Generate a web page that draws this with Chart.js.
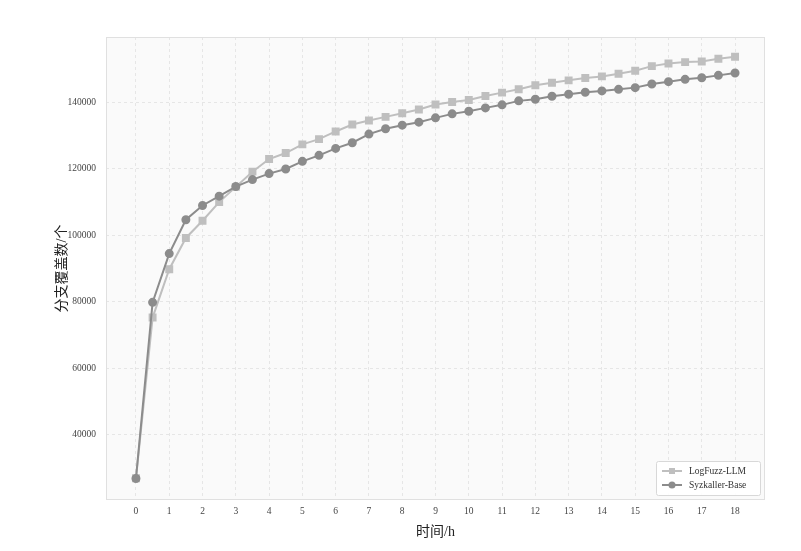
<!DOCTYPE html>
<html>
<head>
<meta charset="utf-8">
<script src="https://cdn.jsdelivr.net/npm/chart.js@4"></script>
<style>
  html, body { margin: 0; padding: 0; background: #fff; }
  #wrap { width: 801px; height: 551px; }
</style>
</head>
<body>
<div id="wrap"><canvas id="myChart"></canvas></div>
<script>
const hours = [0, 0.5, 1, 1.5, 2, 2.5, 3, 3.5, 4, 4.5, 5, 5.5, 6, 6.5, 7, 7.5, 8, 8.5, 9,
  9.5, 10, 10.5, 11, 11.5, 12, 12.5, 13, 13.5, 14, 14.5, 15, 15.5, 16, 16.5, 17, 17.5, 18];

const logFuzzLLM = [26900, 75240, 89790, 99190, 104370, 109970, 114550, 119130, 122930, 124730,
  127330, 128920, 131220, 133320, 134520, 135610, 136710, 137800, 139300,
  140100, 140700, 141900, 142900, 143890, 145090, 145890, 146590, 147280, 147780,
  148590, 149490, 150870, 151680, 152080, 152280, 153080, 153680];

const syzkallerBase = [26830, 79820, 94490, 104670, 108960, 111760, 114650, 116740, 118540, 119940,
  122240, 124040, 126130, 127820, 130420, 132020, 133110, 134010, 135310,
  136510, 137310, 138310, 139220, 140420, 140920, 141820, 142420, 143020, 143420,
  143890, 144400, 145490, 146190, 146890, 147390, 148090, 148790];

const xTicks = [0, 1, 2, 3, 4, 5, 6, 7, 8, 9, 10, 11, 12, 13, 14, 15, 16, 17, 18];
const yTicks = [40000, 60000, 80000, 100000, 120000, 140000];

const seriesNames = ['LogFuzz-LLM', 'Syzkaller-Base'];

const serif = "'Liberation Serif', 'Times New Roman', 'Noto Sans CJK SC', serif";

// plot background and frame like the original figure
const plotFrame = {
  id: 'plotFrame',
  beforeDraw(chart) {
    const { ctx, chartArea: a } = chart;
    ctx.save();
    ctx.fillStyle = '#fafafa';
    ctx.fillRect(a.left, a.top, a.right - a.left, a.bottom - a.top);
    ctx.restore();
  },
  afterDraw(chart) {
    const { ctx, chartArea: a } = chart;
    ctx.save();
    ctx.strokeStyle = '#e0e0e0';
    ctx.lineWidth = 1;
    ctx.strokeRect(a.left + 0.5, a.top + 0.5, a.right - a.left - 1, a.bottom - a.top - 1);
    ctx.restore();
  },
};

// legend box in lower right of the plot, line + marker glyphs
const cornerLegend = {
  id: 'cornerLegend',
  afterDraw(chart) {
    const { ctx, chartArea: a } = chart;
    const w = 104, h = 34;
    const x0 = a.right - w - 5, y0 = a.bottom - h - 5;
    ctx.save();
    ctx.fillStyle = 'rgba(255,255,255,0.9)';
    ctx.strokeStyle = '#d8d8d8';
    ctx.lineWidth = 1;
    ctx.beginPath();
    ctx.roundRect(x0 + 0.5, y0 + 0.5, w, h, 2);
    ctx.fill();
    ctx.stroke();
    ctx.font = '9.5px ' + serif;
    ctx.textBaseline = 'middle';
    chart.data.datasets.forEach((ds, i) => {
      const cy = y0 + 10 + i * 14;
      ctx.strokeStyle = ds.borderColor;
      ctx.lineWidth = 2;
      ctx.beginPath();
      ctx.moveTo(x0 + 6, cy);
      ctx.lineTo(x0 + 26, cy);
      ctx.stroke();
      ctx.fillStyle = ds.backgroundColor;
      if (ds.pointStyle === 'rect') {
        ctx.fillRect(x0 + 16 - 3, cy - 3, 6, 6);
      } else {
        ctx.beginPath();
        ctx.arc(x0 + 16, cy, 3.5, 0, Math.PI * 2);
        ctx.fill();
      }
      ctx.fillStyle = '#333';
      ctx.fillText(ds.label, x0 + 33, cy + 0.5);
    });
    ctx.restore();
  },
};

const ctx = document.getElementById('myChart').getContext('2d');

const datasets = [
  {
    label: seriesNames[0],
    data: hours.map((h, i) => ({ x: h, y: logFuzzLLM[i] })),
    borderColor: '#bfbfbf',
    backgroundColor: '#bfbfbf',
    pointStyle: 'rect',
    pointRadius: 4.2,
    borderWidth: 2,
    order: 2,
  },
  {
    label: seriesNames[1],
    data: hours.map((h, i) => ({ x: h, y: syzkallerBase[i] })),
    borderColor: '#8c8c8c',
    backgroundColor: '#8c8c8c',
    pointStyle: 'circle',
    pointRadius: 3.5,
    borderWidth: 2,
    order: 1,
  },
];

new Chart(ctx, {
  type: 'line',
  data: { datasets },
  options: {
    responsive: true,
    maintainAspectRatio: false,
    animation: false,
    layout: { padding: { left: 50, top: 37, right: 36, bottom: 0 } },
    plugins: {
      legend: { display: false },
      tooltip: { enabled: false },
    },
    elements: { line: { tension: 0 }, point: { borderWidth: 0 } },
    scales: {
      x: {
        type: 'linear',
        min: -0.9,
        max: 18.9,
        afterFit(scale) { scale.height = 51; },
        afterBuildTicks(scale) { scale.ticks = xTicks.map(v => ({ value: v })); },
        border: { display: false, dash: [3, 3] },
        grid: { color: '#e6e6e6', drawTicks: false },
        ticks: { color: '#444', padding: 6, font: { family: serif, size: 9.5 }, callback: v => String(v) },
        title: {
          display: true,
          text: '时间/h',
          color: '#222',
          font: { family: serif, size: 14 },
          padding: { top: 2, bottom: 10 },
        },
      },
      y: {
        min: 20370,
        max: 159630,
        afterFit(scale) { scale.width = 56; },
        afterBuildTicks(scale) { scale.ticks = yTicks.map(v => ({ value: v })); },
        border: { display: false, dash: [3, 3] },
        grid: { color: '#e6e6e6', drawTicks: false },
        ticks: { color: '#444', padding: 10, font: { family: serif, size: 9.5 }, callback: v => String(v) },
        title: {
          display: true,
          text: '分支覆盖数/个',
          color: '#222',
          font: { family: serif, size: 14 },
          padding: { top: 4, bottom: 0 },
        },
      },
    },
  },
  plugins: [plotFrame, cornerLegend],
});
</script>
</body>
</html>
